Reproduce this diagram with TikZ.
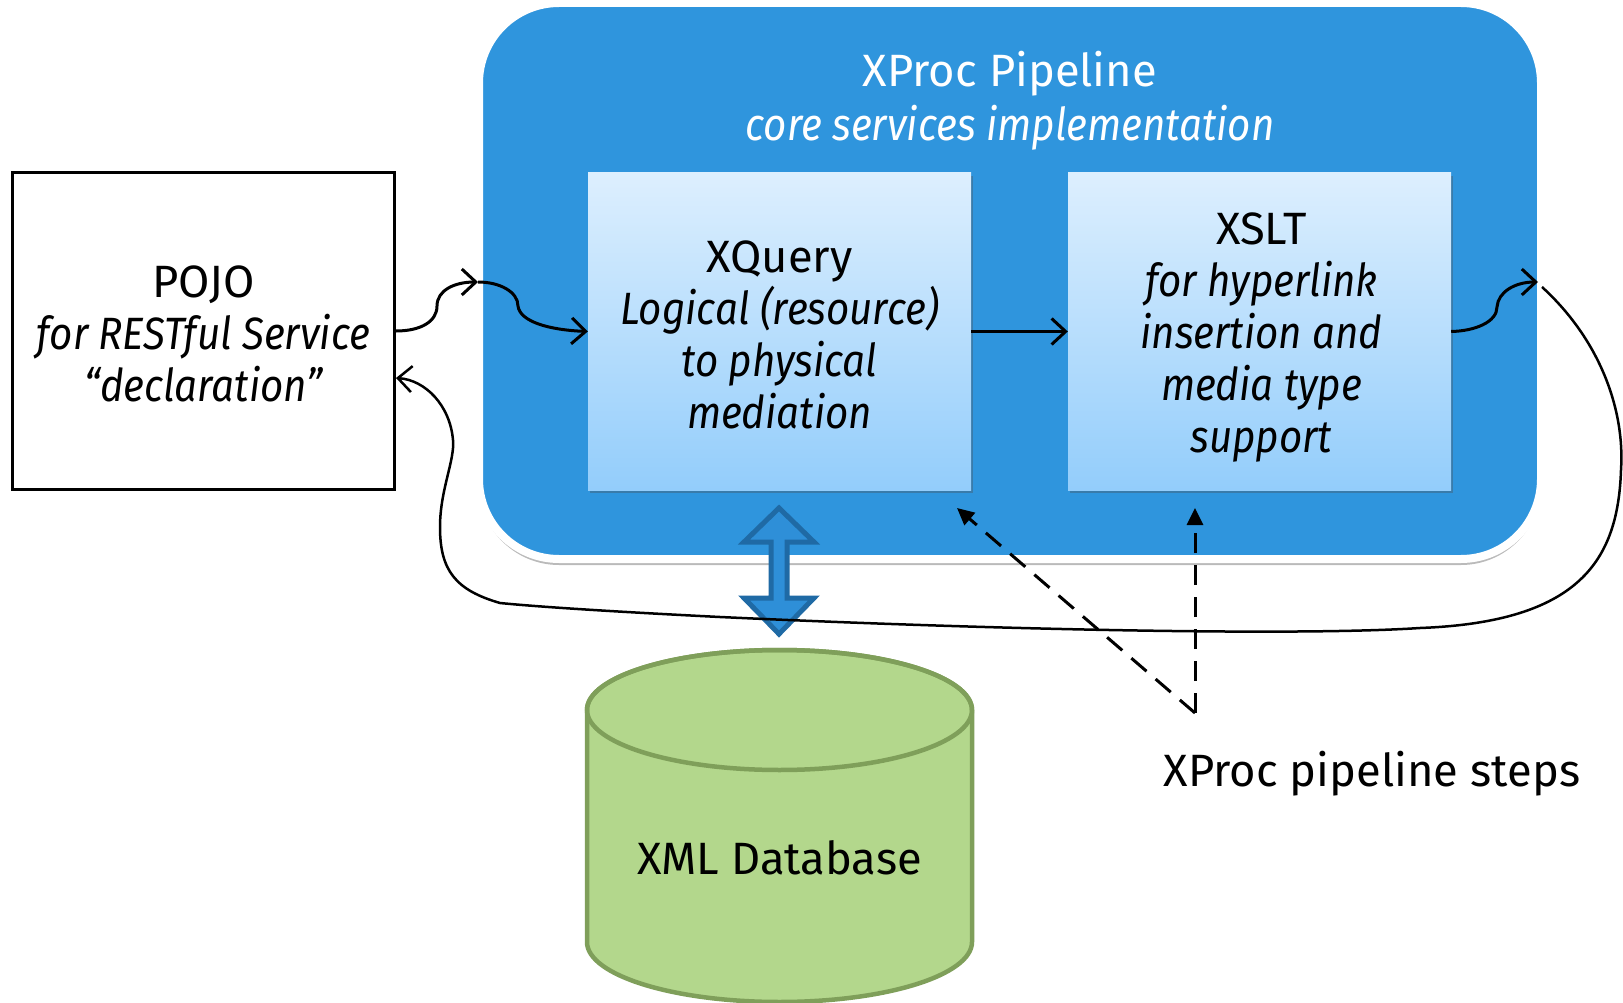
\documentclass[tikz,border=0pt]{standalone}
\usepackage{fontspec}
\setmainfont{Fira Sans}[ItalicFeatures={FakeStretch=0.89}]
\usetikzlibrary{arrows.meta,shadows,shapes.geometric,calc}
\definecolor{pipeblue}{HTML}{2F95DD}
\definecolor{boxtop}{HTML}{DDEFFE}
\definecolor{boxbot}{HTML}{93CDFB}
\definecolor{dbfill}{HTML}{B3D78C}
\definecolor{dbline}{HTML}{7F9F5A}
\definecolor{dblarrow}{HTML}{2E8FD8}
\definecolor{dblline}{HTML}{1F6AA5}
\tikzset{
  bigtext/.style={font=\fontsize{45.3}{52}\selectfont},
  stepbox/.style={rectangle, minimum width=383pt, minimum height=317pt, inner sep=0pt,
    top color=boxtop, bottom color=boxbot,
    drop shadow={shadow xshift=2pt, shadow yshift=-3pt, opacity=0.35, fill=black!70}},
  boxlabel/.style={align=center, bigtext, inner sep=0pt},
  conn/.style={line width=3pt, -{Straight Barb[length=14pt,width=26pt,line width=3pt]}},
  retconn/.style={line width=2.5pt, -{Straight Barb[length=14pt,width=26pt,line width=2.5pt]}},
  dasharrow/.style={line width=3pt, dash pattern=on 20pt off 12pt, -{Triangle[length=17pt,width=16pt]}},
}
\begin{document}
\begin{tikzpicture}[x=1pt,y=-1pt]
\useasboundingbox (0,0) rectangle (1623,1003);
% pipeline container
\node[rectangle, rounded corners=80pt, minimum width=1062pt, minimum height=556pt,
  fill=pipeblue, draw=white, line width=8pt,
  drop shadow={shadow xshift=0pt, shadow yshift=-6pt, opacity=0.45, fill=black!60}]
  (pipe) at (1010,281) {};
\node[bigtext, text=white, align=center] (pipetitle) at (1010,101)
  {XProc Pipeline\\[2pt]\itshape core services implementation};
% POJO
\node[rectangle, draw=black, line width=3pt, fill=white, minimum width=382pt, minimum height=317pt,
  inner sep=0pt] (pojo) at (203.5,331) {};
\node[boxlabel] (pojolabel) at ([yshift=-3pt]pojo.center)
  {POJO\\\itshape for RESTful Service\\\itshape “declaration”};
% steps
\node[stepbox] (xq) at (779.5,331.5) {};
\node[boxlabel] (xqlabel) at ([yshift=-3pt]xq.center)
  {XQuery\\\itshape Logical (resource)\\\itshape to physical\\\itshape mediation};
\node[stepbox] (xs) at (1259.5,331.5) {};
\node[boxlabel] (xslabel) at ([xshift=2pt,yshift=-6pt]xs.center)
  {XSLT\\\itshape for hyperlink\\\itshape insertion and\\\itshape media type\\\itshape support};
% database cylinder
\path[fill=dbfill, draw=dbline, line width=4.5pt]
  (587,710) -- (587,942) arc[start angle=180, end angle=0, x radius=192.5, y radius=60]
  -- (972,710) arc[start angle=0, end angle=-180, x radius=192.5, y radius=60] -- cycle;
\draw[dbline, line width=4.5pt] (779.5,710) ellipse[x radius=192.5, y radius=60];
\node[bigtext] (db) at (779.5,858) {XML Database};
% double arrow between xquery and db
\coordinate (dac) at (779,571);
\draw[fill=dblarrow, draw=dblline, line width=5pt, line join=miter]
  ($(dac)+(0,-63)$) -- ++(35,34) -- ++(-27,0) -- ++(0,56) -- ++(27,0) -- ($(dac)+(0,63)$)
  -- ++(-35,-36) -- ++(27,0) -- ++(0,-56) -- ++(-27,0) -- cycle;
% connectors
\coordinate (pinL) at (478,282);
\coordinate (pinR) at (1538,282);
\coordinate (pinRb) at (1542,287);
\draw[conn] (pojo.east) .. controls (420,331) and (437,322) .. (437,306)
  .. controls (437,290) and (455,282) .. (pinL);
\draw[conn] (pinL) .. controls (500,282) and (518,292) .. (518,306)
  .. controls (520,322) and (550,330) .. (xq.west);
\draw[conn] (xq.east) -- (xs.west);
\draw[conn] (xs.east) .. controls (1475,331) and (1497,322) .. (1497,307)
  .. controls (1498,292) and (1515,282) .. (pinR);
\coordinate (pojoin) at ([yshift=-47pt]pojo.east);
\draw[retconn] (pinRb) .. controls (1600,340) and (1625,410) .. (1621,470)
  .. controls (1618,560) and (1580,622) .. (1420,628)
  .. controls (1300,636) and (1000,630) .. (720,617)
  .. controls (620,612) and (540,607) .. (500,603)
  .. controls (455,590) and (440,570) .. (440,527)
  .. controls (440,490) and (455,460) .. (453,440)
  .. controls (450,405) and (425,380) .. (pojoin);
% dashed arrows to steps
\coordinate (steps) at (1195,713);
\coordinate (xqmark) at (957,508);
\coordinate (xsmark) at (1195,508);
\draw[dasharrow] (steps) -- (xqmark);
\draw[dasharrow] (steps) -- (xsmark);
\node[bigtext] (stepslbl) at (1372,774) {XProc pipeline steps};
\end{tikzpicture}
\end{document}
